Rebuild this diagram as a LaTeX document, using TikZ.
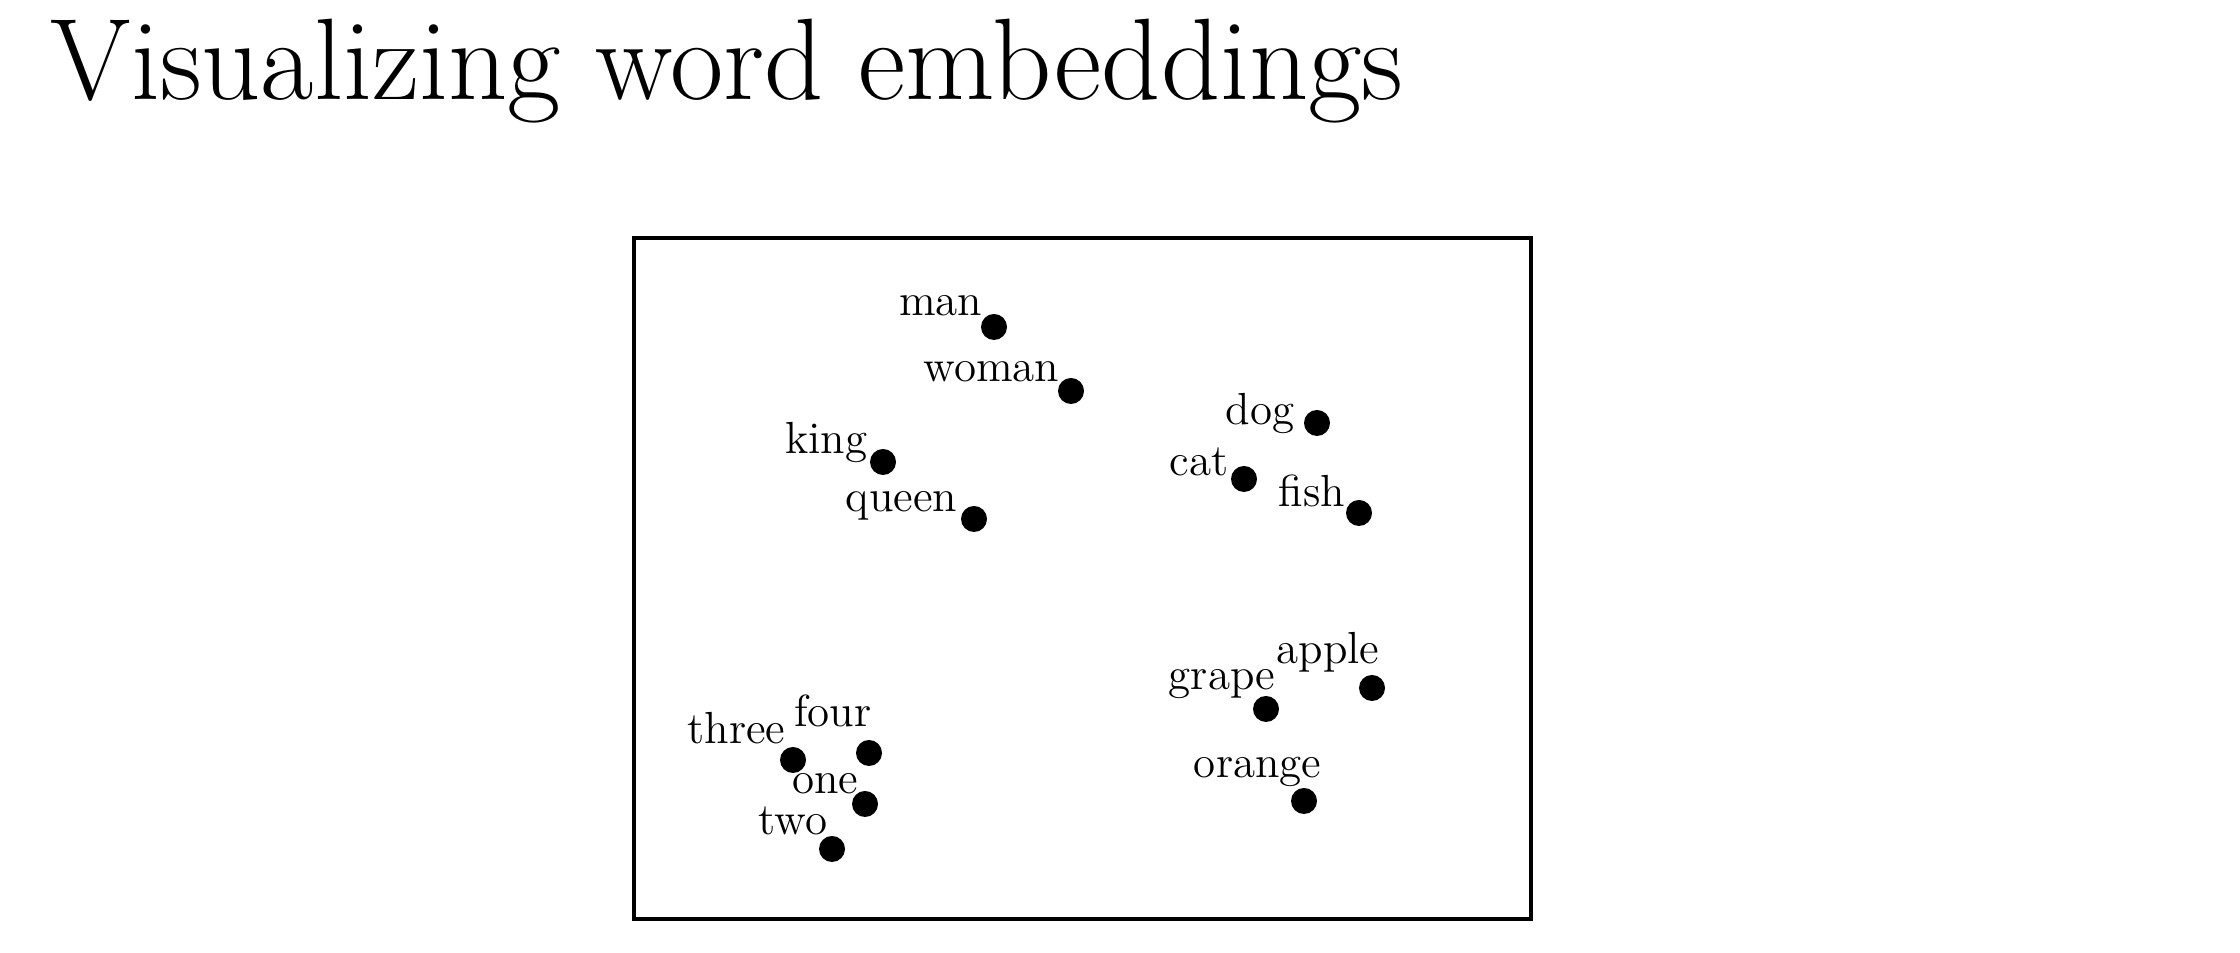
\documentclass[tikz,border=0pt]{standalone}
\begin{document}
\begin{tikzpicture}[x=0.1mm, y=-0.1mm,
	dot/.style={circle, fill=black, inner sep=0pt, minimum size=2.6mm},
	word/.style={inner sep=0pt, anchor=base east, font=\fontsize{12.8}{14}\selectfont}]
	\useasboundingbox (0,0) rectangle (2240,953);
	\node[anchor=base west, inner sep=0pt, font=\fontsize{33}{38}\selectfont] (title) at (50,100) {Visualizing word embeddings};
	\draw[line width=1.4pt] (634,238) rectangle (1531,919);
	
	\node[dot] (man) at (994,327) {};
	\node[dot] (woman) at (1071,391) {};
	\node[dot] (king) at (883,462) {};
	\node[dot] (queen) at (974,519) {};
	\node[word] (man-l) at ([shift={(-11,-11)}]man) {man};
	\node[word] (woman-l) at ([shift={(-11,-9)}]woman) {woman};
	\node[word] (king-l) at ([shift={(-15,-8)}]king) {king};
	\node[word] (queen-l) at ([shift={(-16,-7)}]queen) {queen};
	
	\node[dot] (dog) at (1317,423) {};
	\node[dot] (cat) at (1244,479) {};
	\node[dot] (fish) at (1359,513) {};
	\node[word] (dog-l) at ([shift={(-22,2)}]dog) {dog};
	\node[word] (cat-l) at ([shift={(-15,-3)}]cat) {cat};
	\node[word] (fish-l) at ([shift={(-13,-6)}]fish) {fish};
	
	\node[dot] (apple) at (1372,688) {};
	\node[dot] (grape) at (1266,709) {};
	\node[dot] (orange) at (1304,801) {};
	\node[word] (apple-l) at ([shift={(8,-24)}]apple) {apple};
	\node[word] (grape-l) at ([shift={(10,-19)}]grape) {grape};
	\node[word] (orange-l) at ([shift={(18,-23)}]orange) {orange};
	
	\node[dot] (three) at (793,760) {};
	\node[dot] (four) at (869,753) {};
	\node[dot] (one) at (865,804) {};
	\node[dot] (two) at (832,849) {};
	\node[word] (three-l) at ([shift={(-7,-16)}]three) {three};
	\node[word] (four-l) at ([shift={(3,-26)}]four) {four};
	\node[word] (one-l) at ([shift={(-6,-10)}]one) {one};
	\node[word] (two-l) at ([shift={(-4,-14)}]two) {two};
\end{tikzpicture}
\end{document}
